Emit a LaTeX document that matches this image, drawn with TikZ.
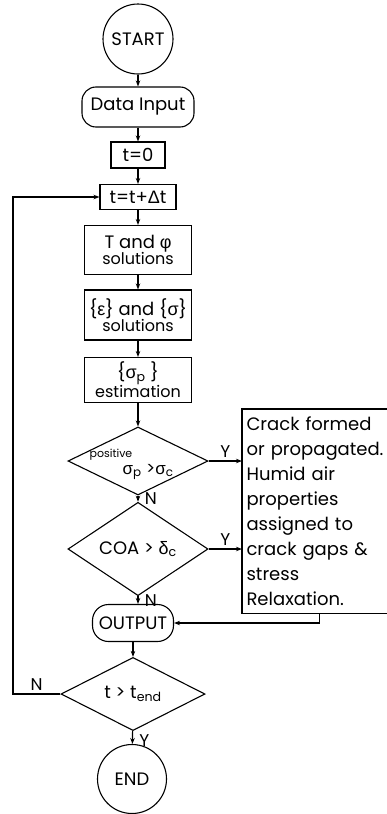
\documentclass[tikz,border=0pt]{standalone}
\usepackage{fontspec}
\setmainfont{Poppins}
\newfontfamily\gr{Liberation Sans}
\usetikzlibrary{shapes.geometric,arrows.meta,calc}
\begin{document}
\begin{tikzpicture}[x=1pt,y=-1pt,line width=1.1pt,
  box/.style={draw,rectangle,inner sep=0pt,align=center},
  term/.style={draw,circle,minimum size=70pt,inner sep=0pt},
  pill/.style={draw,rectangle,rounded corners=14pt,inner sep=0pt},
  test/.style={draw,diamond,inner sep=0pt},
  lbl/.style={font=\fontsize{17}{18}\selectfont},
  >={Stealth[length=6pt,width=4.5pt]},
  font=\fontsize{18}{19}\selectfont]
\useasboundingbox (0,0) rectangle (387,814);
% main column
\node[term] (start) at (138,39) {START};
\node[pill,minimum width=112pt,minimum height=40pt] (input) at (138,107) {Data Input};
\node[box,minimum width=54pt,minimum height=26pt] (tzero) at (138,155) {t=0};
\node[box,minimum width=76pt,minimum height=25pt] (tstep) at (138,197) {t=t+{\gr Δ}t};
\node[box,minimum width=107pt,minimum height=49pt] (tphi) at (138,250)
  {T and {\gr φ}\\[-3pt]{\fontsize{16}{16}\selectfont solutions}};
\node[box,minimum width=107pt,minimum height=50pt] (epssig) at (138,315)
  {\{{\gr ε}\} and \{{\gr σ}\}\\[-3pt]{\fontsize{16}{16}\selectfont solutions}};
\node[box,minimum width=107pt,minimum height=45pt] (sigest) at (138,380)
  {\{{\gr σ}\textsubscript{p} \}\\[0pt]{\fontsize{16}{16}\selectfont estimation}};
% tests
\node[test,minimum width=140pt,minimum height=68pt] (dec1) at (138,461) {};
\node[font=\fontsize{11}{12}\selectfont] (pos) at (111,455) {positive};
\node[lbl] (cond) at (148,472) {{\gr σ}\textsubscript{p} >{\gr σ}\textsubscript{c}};
\node[test,minimum width=140pt,minimum height=72pt] (dec2) at (138,549)
  {COA > {\gr δ}\textsubscript{c}};
% crack box, cut off at the right
\node[rectangle,anchor=north west,text width=145pt,inner xsep=4pt,inner ysep=3pt,
  minimum height=203pt,align=left,font=\fontsize{18}{25}\selectfont] (crack) at (242,409)
  {Crack formed\\ or propagated.\\ Humid air\\ properties\\ assigned to\\ crack gaps \&\\ stress\\ Relaxation.};
\coordinate (cut) at (387,0);
\draw (crack.north west -| cut) -- (crack.north west) -- (crack.south west) -- (crack.south west -| cut);
% lower column
\node[pill,minimum width=81pt,minimum height=37pt,rounded corners=16pt] (output) at (133,623) {OUTPUT};
\node[test,minimum width=144pt,minimum height=72pt] (dec3) at (133,694) {t > t\textsubscript{end}};
\node[term,minimum size=69pt] (end) at (132,779) {END};
\coordinate (loop) at (13,694);

\path[->]
(start) edge (input)
(input) edge (tzero)
(tzero) edge (tstep)
(tstep) edge (tphi)
(tphi) edge (epssig)
(epssig) edge (sigest)
(sigest) edge (dec1)
(dec1) edge node[right,lbl,xshift=3pt]{N} (dec2)
(dec2.south) edge node[right,lbl,xshift=3pt]{N} (dec2.south |- output.north)
(output) edge (dec3)
(dec3) edge node[right,lbl,xshift=3pt,yshift=-3pt]{Y} (end);

% yes branches
\path[->]
(dec1.east) edge node[above,lbl]{Y} (dec1.east -| crack.west)
(dec2.east) edge node[above,lbl]{Y} (dec2.east -| crack.west);
\draw[->] (crack.south) |- (output.east);

% loop back
\draw[->] (dec3.west) -- node[above,lbl]{N} (loop) |- (tstep.west);
\end{tikzpicture}
\end{document}
